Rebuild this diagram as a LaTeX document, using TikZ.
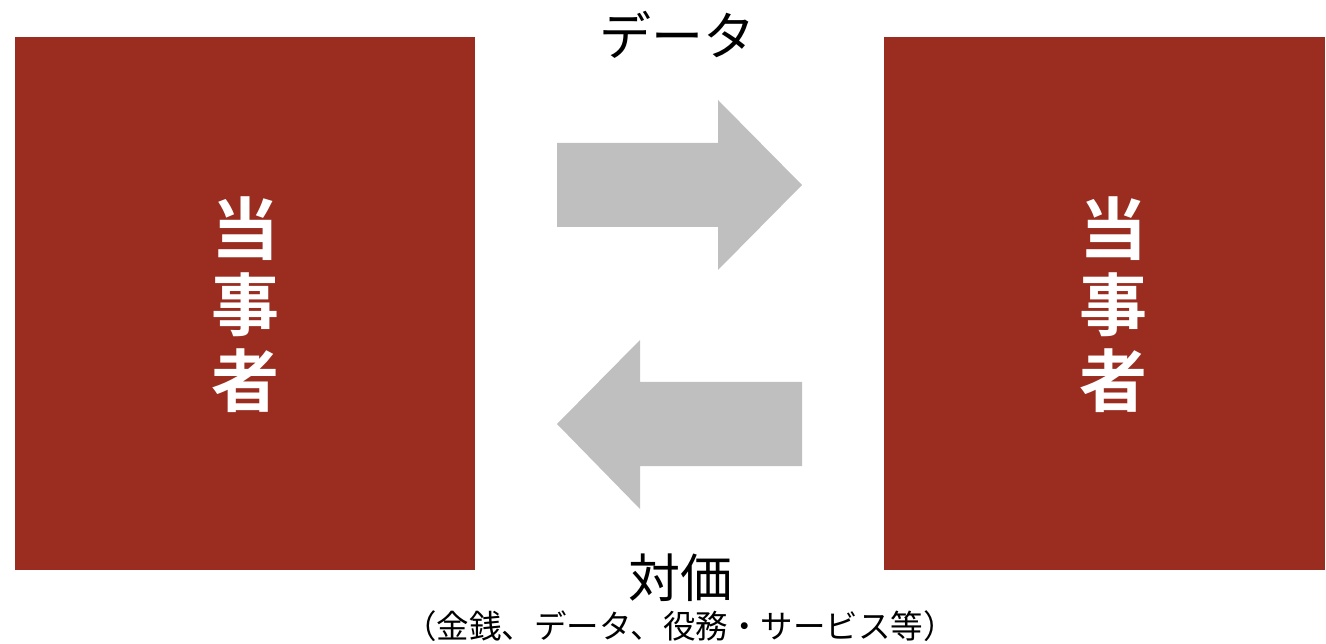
\documentclass[tikz,border=0pt]{standalone}
\usepackage{fontspec}
\newfontfamily\cjk{Noto Sans CJK JP}[BoldFont={* Bold}]
\definecolor{partyred}{HTML}{9A2D20}
\definecolor{arrowgray}{HTML}{BFBFBF}
\begin{document}
\begin{tikzpicture}[x=1pt,y=-1pt,
  party/.style={fill=partyred,draw=none},
  bigarrow/.style={fill=arrowgray,draw=none},
  lbl/.style={inner sep=0pt,font=\cjk}]
\useasboundingbox (0,0) rectangle (1326,644);
\fill[party] (15,37) rectangle (475,570);
\fill[party] (884,37) rectangle (1325,570);
\node[lbl,text=white,font=\cjk\bfseries\fontsize{68}{76}\selectfont,align=center] (p1) at (245,305) {当\\事\\者};
\node[lbl,text=white,font=\cjk\bfseries\fontsize{68}{76}\selectfont,align=center] (p2) at (1113,305) {当\\事\\者};
\fill[bigarrow] (557,143) -- (718,143) -- (718,100) -- (802,185) -- (718,270) -- (718,227) -- (557,227) -- cycle;
\fill[bigarrow] (802,382) -- (640,382) -- (640,340) -- (557,424) -- (640,509) -- (640,466) -- (802,466) -- cycle;
\node[lbl,font=\cjk\fontsize{52}{52}\selectfont] (data) at (677,35) {データ};
\node[lbl,font=\cjk\fontsize{52}{52}\selectfont] (taika) at (680,578) {対価};
\node[lbl,font=\cjk\fontsize{32.5}{32.5}\selectfont] (note) at (680,626) {（金銭、データ、役務・サービス等）};
\end{tikzpicture}
\end{document}
